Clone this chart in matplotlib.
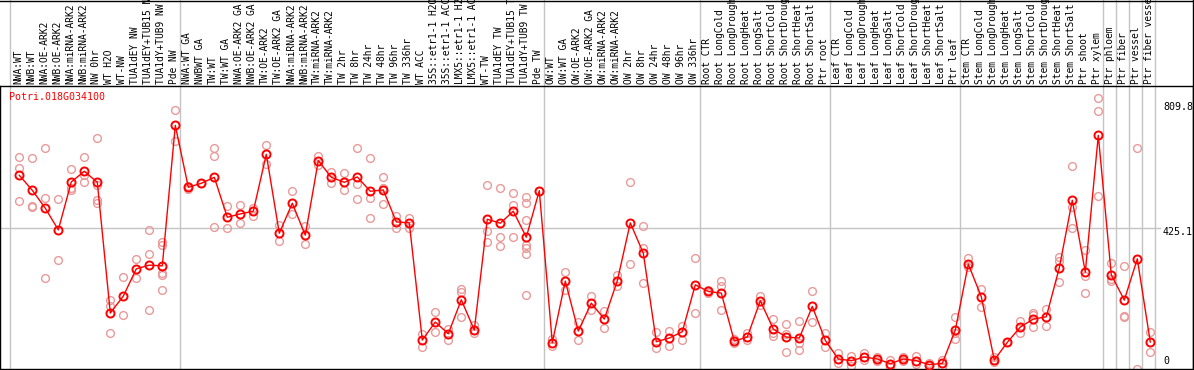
import matplotlib
matplotlib.use("Agg")
import matplotlib.pyplot as plt
from matplotlib.lines import Line2D

plt.close('all')

# sample labels, one block per tissue group
grp_nw = ["NWA:WT", "NWB:WT", "NWA:OE-ARK2", "NWB:OE-ARK2", "NWA:miRNA-ARK2",
          "NWB:miRNA-ARK2", "NW 0hr", "WT H2O", "WT-NW", "TUA1dEY NW",
          "TUA1dEY+TUB15 NW", "TUA1dY+TUB9 NW", "Pde NW"]
grp_tw = ["NWA:WT GA", "NWBWT GA", "TW:WT", "TW:WT GA", "NWA:OE-ARK2 GA",
          "NWB:OE-ARK2 GA", "TW:OE-ARK2", "TW:OE-ARK2 GA", "NWA:miRNA-ARK2",
          "NWB:miRNA-ARK2", "TW:miRNA-ARK2", "TW:miRNA-ARK2", "TW 2hr", "TW 8hr",
          "TW 24hr", "TW 48hr", "TW 96hr", "TW 336hr", "WT ACC", "35S::etr1-1 H2O",
          "35S::etr1-1 ACC", "LMX5::etr1-1 H2O", "LMX5::etr1-1 ACC", "WT-TW",
          "TUA1dEY TW", "TUA1dEY+TUB15 TW", "TUA1dY+TUB9 TW", "Pde TW"]
grp_ow = ["OW:WT", "OW:WT GA", "OW:OE-ARK2", "OW:OE-ARK2 GA", "OW:miRNA-ARK2",
          "OW:miRNA-ARK2", "OW 2hr", "OW 8hr", "OW 24hr", "OW 48hr", "OW 96hr", "OW 336hr"]
stress = ["CTR", "LongCold", "LongDrought", "LongHeat", "LongSalt",
          "ShortCold", "ShortDrought", "ShortHeat", "ShortSalt"]
grp_root = ["Root " + s for s in stress] + ["Ptr root"]
grp_leaf = ["Leaf " + s for s in stress] + ["Ptr leaf"]
grp_stem = ["Stem " + s for s in stress] + ["Ptr shoot", "Ptr xylem"]
grp_ptr = ["Ptr phloem", "Ptr fiber", "Ptr vessel", "Ptr fiber vessel"]

groups = [grp_nw, grp_tw, grp_ow, grp_root, grp_leaf, grp_stem,
          grp_ptr[:1], grp_ptr[1:2], grp_ptr[2:3], grp_ptr[3:]]
labels = [l for g in groups for l in g]

# mean expression per sample
means = [582, 537, 483, 418, 562, 594, 561, 168, 219, 301, 312, 310, 732,
         546, 558, 576, 456, 466, 474, 645, 408, 498, 402, 626, 576, 561, 577,
         534, 538, 442, 439, 87, 141, 106, 208, 117, 450, 438, 474, 396, 536,
         79, 264, 114, 198, 150, 265, 439, 348, 82, 93, 112, 253,
         233, 228, 84, 96, 205, 120, 96, 93, 188, 86,
         30, 25, 36, 30, 16, 30, 25, 13, 17, 117,
         315, 217, 27, 80, 126, 150, 157, 304, 507, 291, 702,
         283, 207, 331, 81]

# individual replicates
reps = [[636, 603, 506], [634, 489, 488], [663, 513, 274], [510, 327],
        [601, 543, 538], [637, 563, 582], [693, 553, 508, 498], [208, 188, 108],
        [276, 163], [330, 273], [418, 346, 178], [383, 373, 288, 281, 238],
        [778, 685],
        [550, 542], [558], [663, 639, 426], [490, 423], [493, 439], [485, 461],
        [672, 616], [433, 384], [534, 465], [431, 377], [641, 613], [593, 558],
        [588, 537], [663, 555, 510], [633, 515, 453], [576, 543, 496], [460, 423],
        [455, 423], [105, 67], [171, 111], [120, 86], [240, 230, 155], [131, 108],
        [553, 415, 383], [543, 398, 369], [528, 493, 398],
        [518, 499, 447, 373, 363, 345, 223], [536],
        [68, 90], [291, 238], [141, 86], [220, 176], [174, 123], [283, 248],
        [561, 315], [429, 363, 258], [111, 62], [113, 69], [128, 86], [334, 168],
        [238, 228], [263, 250, 177], [78, 90], [108, 86], [218, 191],
        [150, 108, 98], [135, 105, 51], [143, 78, 58], [235, 140], [109, 66],
        [48, 18], [38, 10], [48, 26], [23, 37], [5, 27], [37, 23], [38, 15],
        [8, 18], [28, 5], [156, 91, 108],
        [333, 305], [241, 187], [35, 20], [80], [143, 108], [168, 163, 126],
        [179, 129], [336, 325, 261], [609, 488, 423], [358, 280, 228],
        [813, 774, 520],
        [318, 263, 270], [308, 160, 156], [663, 1], [110, 51]]

y_top = 850.3
y_mid = 425.1
y_max_label = 809.8

W, H = 1194, 370
fig = plt.figure(figsize=(W / 100, H / 100), dpi=100)
ax = fig.add_axes([0, 1 / H, 1193 / W, 283 / H])

n = len(labels)
xs = list(range(n))
ax.set_xlim(-19.3 / 13, (1193 - 19.3) / 13)
ax.set_ylim(0, y_top)

for i, r in enumerate(reps):
    ax.plot([i] * len(r), r, linestyle='none', marker='o', ms=5.6, mfc='none',
            mec='#e99a9a', mew=1.0, zorder=2)
ax.plot(xs, means, color='red', lw=1.0, marker='o', ms=5.8, mfc='none',
        mec='red', mew=1.4, zorder=3)

# grid: middle line and group separators reaching up through the labels
ax.axhline(y_mid, xmax=1160 / 1193, color='#c4c4c4', lw=1.0, zorder=1)
top_frac = 369 / 283
seps = [-9 / 13]
k = -1
for g in groups:
    k += len(g)
    seps.append(k + 5 / 13)
for s in seps:
    ax.axvline(s, ymin=0, ymax=top_frac, color='#c4c4c4', lw=1.0,
               clip_on=False, zorder=1)

mono = 'DejaVu Sans Mono'
for i, lab in enumerate(labels):
    ax.text(i - 0.1, 1 + 2 / 283, lab, rotation=90, ha='center', va='bottom',
            transform=ax.get_xaxis_transform(), fontsize=6.9, family=mono,
            clip_on=False)

fig.text(9.5 / W, 1 - 97 / H, "Potri.018G034100", color='red', fontsize=7.2,
         family=mono, ha='left', va='center')
for val, py in [(y_max_label, 107), (y_mid, 231.5), (0, 361.5)]:
    fig.text(1163 / W, 1 - py / H, f"{val:g}" if val else "0", fontsize=7.2,
             family=mono, ha='left', va='center')

for sp in ax.spines.values():
    sp.set_color('black')
    sp.set_linewidth(1.0)
ax.set_xticks([])
ax.set_yticks([])

# outer frame of the label strip
fig.add_artist(Line2D([0, 1], [1 - 0.5 / H, 1 - 0.5 / H], color='black', lw=1.0))
fig.add_artist(Line2D([1192.5 / W, 1192.5 / W], [0, 1], color='black', lw=1.0))

fig.savefig("out.png", dpi=100)
